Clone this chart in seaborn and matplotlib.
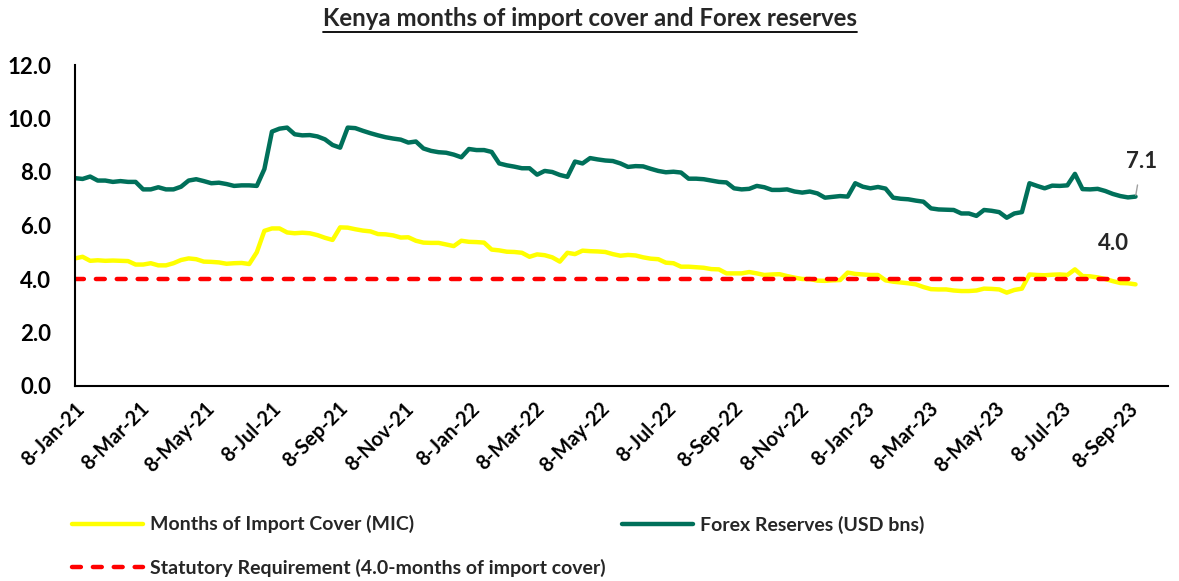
import numpy as np
import pandas as pd
import matplotlib
matplotlib.use("Agg")
import matplotlib.pyplot as plt
import matplotlib.dates as mdates
from matplotlib.lines import Line2D
import seaborn as sns

sns.set_theme(style="white")
plt.rcParams['font.family'] = ['Lato', 'DejaVu Sans']

# weekly readings, first week ending 8-Jan-21
start_date = "2021-01-08"

mic = [4.77, 4.83, 4.68, 4.70, 4.68, 4.69, 4.68, 4.67, 4.54, 4.54,
       4.59, 4.51, 4.51, 4.59, 4.71, 4.77, 4.74, 4.65, 4.64, 4.62,
       4.57, 4.59, 4.60, 4.56, 5.00, 5.80, 5.89, 5.89, 5.74, 5.71,
       5.73, 5.71, 5.64, 5.54, 5.46, 5.93, 5.92, 5.86, 5.81, 5.78,
       5.68, 5.67, 5.63, 5.55, 5.56,
       5.43, 5.36, 5.35, 5.35, 5.29, 5.23, 5.43, 5.39, 5.38, 5.36,
       5.10, 5.07, 5.02, 5.01, 4.98, 4.83, 4.92, 4.89, 4.81, 4.65,
       4.98, 4.93, 5.06, 5.04, 5.03, 5.01, 4.93, 4.87, 4.90, 4.88,
       4.81, 4.76, 4.74, 4.61, 4.59, 4.46, 4.46, 4.44, 4.42, 4.37,
       4.36, 4.21, 4.21, 4.21, 4.26, 4.21, 4.15, 4.17, 4.18, 4.11,
       4.05,
       4.00, 4.00, 3.94, 3.93, 3.95, 3.96, 4.24, 4.19, 4.17, 4.15,
       4.15, 3.95, 3.90, 3.87, 3.84, 3.80, 3.70, 3.62, 3.61, 3.61,
       3.57, 3.55, 3.55, 3.57, 3.64, 3.63, 3.61, 3.49, 3.59, 3.64,
       4.17, 4.15, 4.14, 4.16, 4.17, 4.15, 4.36, 4.11, 4.10, 4.06,
       4.00, 3.92, 3.85, 3.84, 3.80]

forex = [7.77, 7.74, 7.83, 7.68, 7.68, 7.63, 7.66, 7.63, 7.63, 7.35,
         7.35, 7.43, 7.35, 7.35, 7.45, 7.68, 7.73, 7.66, 7.58, 7.60,
         7.55, 7.48, 7.50, 7.50, 7.48, 8.11, 9.51, 9.62, 9.66, 9.41,
         9.37, 9.38, 9.33, 9.22, 9.01, 8.91, 9.66, 9.64, 9.54, 9.45,
         9.37, 9.30, 9.25, 9.21, 9.10,
         9.14, 8.88, 8.79, 8.74, 8.72, 8.65, 8.55, 8.86, 8.82, 8.82,
         8.75, 8.32, 8.25, 8.20, 8.14, 8.14, 7.90, 8.04, 8.00, 7.89,
         7.82, 8.39, 8.32, 8.52, 8.47, 8.43, 8.41, 8.32, 8.19, 8.22,
         8.21, 8.12, 8.04, 7.99, 8.01, 7.98, 7.75, 7.75, 7.73, 7.68,
         7.63, 7.61, 7.39, 7.35, 7.37, 7.48, 7.43, 7.33, 7.33, 7.35,
         7.27,
         7.23, 7.27, 7.20, 7.04, 7.07, 7.10, 7.08, 7.58, 7.45, 7.39,
         7.44, 7.38, 7.04, 7.00, 6.98, 6.93, 6.89, 6.64, 6.60, 6.59,
         6.58, 6.45, 6.45, 6.36, 6.58, 6.55, 6.50, 6.29, 6.45, 6.50,
         7.58, 7.48, 7.39, 7.49, 7.48, 7.50, 7.93, 7.36, 7.35, 7.37,
         7.29, 7.18, 7.10, 7.05, 7.08]

statutory = 4.0

labels = ["Months of Import Cover (MIC)", "Forex Reserves (USD bns)",
          "Statutory Requirement (4.0-months of import cover)"]
yticks = [0, 2, 4, 6, 8, 10, 12]

dates = pd.date_range(start_date, periods=len(mic), freq="7D")
df = pd.DataFrame({"date": dates, "mic": mic, "forex": forex})
df["statutory"] = statutory

fig = plt.figure(figsize=(11.79, 5.81), dpi=100)
ax = fig.add_axes([75 / 1179, 1 - 386 / 581, (1168 - 75) / 1179, (386 - 65) / 581])

sns.lineplot(data=df, x="date", y="mic", ax=ax, color="#FFFF00", linewidth=3.2, label=labels[0])
sns.lineplot(data=df, x="date", y="forex", ax=ax, color="#00705A", linewidth=3.2, label=labels[1])
sns.lineplot(data=df, x="date", y="statutory", ax=ax, color="#FF0000", linewidth=3.2, label=labels[2])
red = ax.get_lines()[2]
red.set_dashes((2.0, 2.7))
red.set_dash_capstyle("round")

ax.set_ylim(0, 12)
ax.set_yticks(yticks)
ax.set_yticklabels([f"{v:.1f}" for v in yticks], fontsize=16, fontweight="bold")
ax.set_xlim(pd.Timestamp("2021-01-08"), pd.Timestamp("2023-10-15"))
xt = pd.date_range("2021-01-08", "2023-09-08", freq=pd.DateOffset(months=2))
ax.set_xticks(xt)
ax.xaxis.set_major_formatter(mdates.DateFormatter("%-d-%b-%y"))
plt.setp(ax.get_xticklabels(), rotation=45, ha="right", rotation_mode="anchor",
         fontsize=14.5, fontweight="bold")
ax.set_xlabel("")
ax.set_ylabel("")
ax.grid(False)
for s in ["top", "right"]:
    ax.spines[s].set_visible(False)
for s in ["left", "bottom"]:
    ax.spines[s].set_color("black")
    ax.spines[s].set_linewidth(1.5)
ax.tick_params(axis="both", direction="out", length=5, width=1.5, color="black", colors="black")
ax.tick_params(axis="x", pad=4)
ax.tick_params(axis="y", pad=12)

# end labels
ax.annotate("7.1", xy=(dates[-1], forex[-1]), xytext=(6, 35), textcoords="offset pixels",
            ha="center", va="center", fontsize=16, fontweight="bold",
            arrowprops=dict(arrowstyle="-", color="#A0A0A0", lw=1, shrinkA=7, shrinkB=1))
ax.annotate("4.0", xy=(dates[-1], statutory), xytext=(-22, 35), textcoords="offset pixels",
            ha="center", va="center", fontsize=16, fontweight="bold")

# legend below the plot
handles, lbls = ax.get_legend_handles_labels()
ax.get_legend().remove()
leg1 = fig.legend([handles[0], handles[2]], [lbls[0], lbls[2]], loc="center left",
                  bbox_to_anchor=(54 / 1179, 1 - 546 / 581), frameon=False,
                  handlelength=3.7, handletextpad=0.35, labelspacing=1.3,
                  prop={"size": 14, "weight": "bold"})
leg2 = fig.legend([handles[1]], [lbls[1]], loc="center left",
                  bbox_to_anchor=(604 / 1179, 1 - 525 / 581), frameon=False,
                  handlelength=3.7, handletextpad=0.35,
                  prop={"size": 14, "weight": "bold"})

title = fig.text(590 / 1179, 1 - 19 / 581, "Kenya months of import cover and Forex reserves",
                 ha="center", va="center", fontsize=17.3, fontweight="bold")
fig.canvas.draw()
bb = title.get_window_extent()
W, H = fig.get_size_inches() * fig.dpi
fig.add_artist(Line2D([bb.x0 / W, bb.x1 / W], [(bb.y0 - 1) / H] * 2,
                      transform=fig.transFigure, color="black", lw=1.3))

fig.savefig("out.png", dpi=100)
